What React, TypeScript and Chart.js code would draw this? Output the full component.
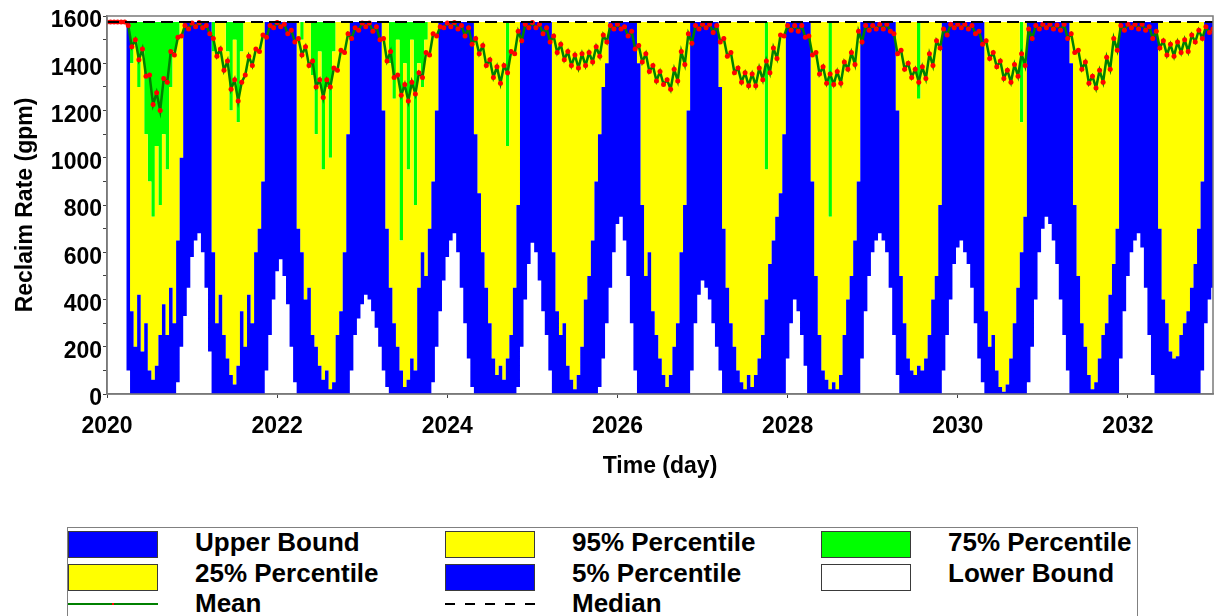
import React, { useEffect, useRef } from 'react';
import { Chart, registerables } from 'chart.js';

Chart.register(...registerables);

const FONT = "'Liberation Sans', Arial, Helvetica, sans-serif";

// ---- axes ----
const START_YEAR = 2020;
const END_YEAR = 2033;
const STEPS_PER_YEAR = 24; // semi-monthly samples
const X_TICKS = [2020, 2022, 2024, 2026, 2028, 2030, 2032];
const Y_TICKS = [0, 100, 200, 300, 400, 500, 600, 700, 800, 900, 1000, 1100, 1200, 1300, 1400, 1500, 1600];
const Y_MIN = 0;
const Y_MAX = 1600;

// ---- series (gpm) ----
const UPPER_BOUND = 1575; // upper bound / 95% / 75% percentiles sit at capacity
const MEDIAN_X = [2020, 2033];
const MEDIAN = [1575, 1575];

// 25% percentile (lower edge of the green band)
const P25 = [
  1575,1575,1575,1575,1575,1575,1575,1400,1500,1300,1450,1100,900,750,1050,800,1100,950,1300,1450,1500,1575,1575,1575, // 2020
  1575,1575,1575,1575,1575,1575,1450,1575,1575,1575,1450,1200,1500,1150,1450,1575,1575,1575,1575,1575,1575,1575,1575,1575, // 2021
  1575,1575,1575,1575,1575,1575,1575,1500,1575,1575,1350,1100,1450,950,1300,1000,1450,1575,1575,1575,1575,1575,1575,1575, // 2022
  1575,1575,1575,1575,1575,1575,1575,1575,1400,1250,1500,650,1400,950,1500,800,1400,1300,1500,1575,1575,1575,1575,1575, // 2023
  1575,1575,1575,1575,1575,1575,1575,1575,1575,1575,1575,1575,1575,1575,1575,1575,1575,1050,1575,1575,1575,1575,1575,1575, // 2024
  1575,1575,1575,1575,1575,1575,1575,1575,1575,1575,1575,1575,1575,1575,1575,1575,1575,1575,1575,1575,1575,1575,1575,1575, // 2025
  1575,1575,1575,1575,1575,1575,1575,1575,1575,1575,1575,1575,1575,1575,1575,1575,1575,1575,1575,1575,1575,1575,1575,1575, // 2026
  1575,1575,1575,1575,1575,1575,1575,1575,1575,1575,1575,1575,1575,1575,1575,1575,1575,1575,950,1575,1575,1575,1575,1575, // 2027
  1575,1575,1575,1575,1575,1575,1575,1575,1575,1575,1575,1575,750,1575,1575,1575,1575,1575,1575,1575,1575,1575,1575,1575, // 2028
  1575,1575,1575,1575,1575,1575,1575,1575,1575,1575,1575,1575,1575,1250,1575,1575,1575,1575,1575,1575,1575,1575,1575,1575, // 2029
  1575,1575,1575,1575,1575,1575,1575,1575,1575,1575,1575,1575,1575,1575,1575,1575,1575,1575,1150,1575,1575,1575,1575,1575, // 2030
  1575,1575,1575,1575,1575,1575,1575,1575,1575,1575,1575,1575,1575,1575,1575,1575,1575,1575,1575,1575,1575,1575,1575,1575, // 2031
  1575,1575,1575,1575,1575,1575,1575,1575,1575,1575,1575,1575,1575,1575,1575,1575,1575,1575,1575,1575,1575,1575,1575,1575, // 2032
  1575,
];

// 5% percentile (lower edge of the yellow band)
const P5 = [
  1575,1575,1575,1575,1575,1575,1575,350,200,420,180,300,100,60,120,250,380,250,450,300,650,1000,1575,1575, // 2020
  1575,1575,1575,1575,1575,1575,600,300,420,250,150,80,40,120,350,200,420,300,600,700,900,1575,1575,1575, // 2021
  1575,1575,1575,1575,1575,1575,700,600,400,450,250,200,120,60,100,20,50,250,350,600,1100,1575,1575,1575, // 2022
  1575,1575,1575,1575,1575,1575,1200,700,450,300,200,100,30,60,150,100,450,600,500,700,900,1200,1575,1575, // 2023
  1575,1575,1575,1575,1575,1575,1575,1575,1100,850,600,450,300,150,80,120,60,150,250,450,800,1575,1575,1575, // 2024
  1575,1575,1575,1575,1575,1575,600,350,250,300,120,60,20,80,200,400,500,650,900,1100,1300,1400,1575,1575, // 2025
  1575,1575,1575,1575,1575,1575,1400,800,500,600,350,250,150,80,30,80,200,300,600,800,1200,1575,1575,1575, // 2026
  1575,1575,1575,1575,1575,1300,700,450,300,200,100,50,20,80,30,80,150,250,400,550,650,750,850,1100, // 2027
  1575,1575,1575,1575,1575,1575,1575,900,500,250,100,60,20,50,20,80,250,400,500,650,900,1575,1575,1575, // 2028
  1575,1575,1575,1575,1575,1575,1575,1200,500,300,150,100,80,120,100,150,250,400,500,800,1575,1575,1575,1575, // 2029
  1575,1575,1575,1575,1575,1575,1575,1575,350,200,250,100,30,10,40,150,300,450,600,750,1575,1575,1575,1575, // 2030
  1575,1575,1575,1575,1575,1575,1575,1575,1400,800,500,300,200,80,20,50,150,250,300,420,550,700,1575,1575, // 2031
  1575,1575,1575,1575,1575,1575,1575,1575,1575,700,400,300,180,150,160,250,300,350,450,550,700,900,1575,1575, // 2032
  1575,
];

// lower bound (lower edge of the blue band; white below)
const LOWER = [
  1575,1575,1575,1575,1575,1575,100,0,0,0,0,0,0,0,0,0,0,0,0,0,50,200,330,450, // 2020
  580,650,680,600,450,180,0,0,0,0,0,0,0,0,0,0,0,0,0,0,0,100,250,400, // 2021
  520,570,500,380,200,50,0,0,0,0,0,0,0,0,0,0,0,0,0,0,0,100,250,320, // 2022
  380,420,400,350,280,200,100,30,0,0,0,0,0,0,0,0,0,0,0,0,50,200,350,480, // 2023
  580,650,680,600,450,300,150,30,0,0,0,0,0,0,0,0,0,0,0,0,30,200,400,550, // 2024
  640,600,480,350,250,100,0,0,0,0,0,0,0,0,0,0,0,0,0,30,150,300,450,600, // 2025
  720,750,650,500,300,100,0,0,0,0,0,0,0,0,0,0,0,0,0,0,0,100,300,420, // 2026
  480,450,400,300,200,100,0,0,0,0,0,0,0,0,0,0,0,0,0,0,0,0,0,0, // 2027
  150,300,400,350,250,120,0,0,0,0,0,0,0,0,0,0,0,0,0,0,0,150,350,500, // 2028
  600,650,680,650,600,450,250,80,0,0,0,0,0,0,0,0,0,0,0,0,100,250,400,550, // 2029
  620,650,600,550,450,300,150,50,0,0,0,0,0,0,0,0,0,0,0,0,50,200,400,600, // 2030
  700,750,720,650,550,400,250,100,0,0,0,0,0,0,0,0,0,0,0,0,0,0,150,350, // 2031
  500,600,650,680,620,450,250,80,0,0,0,0,0,0,0,0,0,0,0,0,0,100,300,400, // 2032
  450,
];

// mean
const MEAN = [
  1575,1575,1575,1575,1575,1575,1560,1470,1500,1415,1460,1345,1350,1225,1275,1200,1335,1320,1450,1435,1510,1515,1560,1545, // 2020
  1570,1555,1572,1550,1560,1525,1505,1430,1460,1370,1410,1290,1330,1240,1320,1350,1430,1390,1460,1450,1520,1510,1560,1550, // 2021
  1572,1555,1565,1525,1540,1490,1505,1435,1470,1390,1410,1300,1330,1255,1330,1300,1380,1370,1455,1445,1525,1505,1550,1540, // 2022
  1570,1555,1570,1535,1555,1500,1505,1410,1450,1340,1350,1265,1310,1240,1320,1270,1360,1340,1445,1435,1525,1515,1555,1550, // 2023
  1570,1555,1572,1545,1560,1515,1550,1480,1505,1440,1475,1390,1415,1340,1385,1315,1390,1360,1450,1440,1535,1495,1565,1550, // 2024
  1572,1550,1565,1525,1550,1490,1515,1445,1480,1415,1450,1390,1435,1380,1440,1390,1445,1405,1470,1430,1520,1490,1560,1545, // 2025
  1565,1545,1555,1515,1535,1460,1475,1405,1440,1365,1390,1325,1365,1310,1330,1290,1375,1325,1450,1395,1525,1485,1560,1545, // 2026
  1565,1550,1565,1530,1560,1490,1505,1430,1445,1360,1380,1320,1360,1305,1355,1305,1380,1330,1410,1360,1465,1420,1520,1515, // 2027
  1560,1540,1560,1535,1560,1510,1515,1435,1445,1355,1385,1315,1355,1310,1365,1315,1405,1375,1445,1395,1535,1490,1560,1540, // 2028
  1560,1545,1565,1545,1565,1535,1525,1440,1455,1375,1400,1340,1375,1320,1385,1335,1440,1390,1495,1465,1545,1520,1565,1550, // 2029
  1565,1550,1565,1545,1560,1525,1535,1480,1495,1420,1445,1385,1410,1335,1370,1320,1395,1345,1440,1390,1545,1505,1560,1545, // 2030
  1565,1550,1565,1545,1562,1540,1565,1505,1525,1445,1455,1375,1405,1315,1345,1295,1370,1320,1425,1375,1505,1455,1560,1540, // 2031
  1565,1550,1565,1545,1565,1540,1555,1505,1535,1465,1495,1435,1480,1430,1490,1445,1500,1450,1520,1490,1540,1505,1555,1530, // 2032
  1545,
];

const BLUE = '#0000ff';
const YELLOW = '#ffff00';
const GREEN = '#00ff00';
const MEAN_GREEN = '#008000';
const RED = '#ff0000';

const toPoints = (values: number[]) =>
  values.map((y, i) => ({ x: START_YEAR + i / STEPS_PER_YEAR, y }));

const framePlugin = {
  id: 'plotFrame',
  afterDraw(chart: any) {
    const { ctx, chartArea: a } = chart;
    ctx.save();
    ctx.strokeStyle = '#7a7a7a';
    ctx.lineWidth = 1.5;
    ctx.strokeRect(a.left, a.top, a.right - a.left, a.bottom - a.top);
    ctx.restore();
  },
};

type LegendItem = { label: string; kind: 'box' | 'mean' | 'median'; color?: string };
const LEGEND_ITEMS: LegendItem[] = [
  { label: 'Upper Bound', kind: 'box', color: BLUE },
  { label: '95% Percentile', kind: 'box', color: YELLOW },
  { label: '75% Percentile', kind: 'box', color: GREEN },
  { label: '25% Percentile', kind: 'box', color: YELLOW },
  { label: '5% Percentile', kind: 'box', color: BLUE },
  { label: 'Lower Bound', kind: 'box', color: '#ffffff' },
  { label: 'Mean', kind: 'mean' },
  { label: 'Median', kind: 'median' },
];

const Legend = () => {
  const swatchX = [68, 445, 821];
  const textX = [195, 572, 948];
  const swatchCenter = [544, 577, 604];
  const textCenter = [542, 573, 603];
  return (
    <>
      <div
        style={{
          position: 'absolute',
          left: 67,
          top: 527,
          width: 1071,
          height: 120,
          border: '1px solid #808080',
          boxSizing: 'border-box',
        }}
      />
      {LEGEND_ITEMS.map((it, i) => {
        const col = i % 3;
        const row = Math.floor(i / 3);
        const cy = swatchCenter[row];
        let swatch: React.ReactNode = null;
        if (it.kind === 'box') {
          swatch = (
            <div
              style={{
                position: 'absolute',
                left: swatchX[col],
                top: cy - 13,
                width: 90,
                height: 27,
                background: it.color,
                border: '1px solid #3a3a3a',
                boxSizing: 'border-box',
              }}
            />
          );
        } else {
          swatch = (
            <svg
              style={{ position: 'absolute', left: swatchX[col], top: cy - 5 }}
              width={90}
              height={10}
            >
              {it.kind === 'mean' ? (
                <>
                  <line x1={0} y1={5} x2={90} y2={5} stroke={MEAN_GREEN} strokeWidth={2} />
                  <rect x={44} y={4} width={2} height={2} fill={RED} />
                </>
              ) : (
                <line x1={0} y1={5} x2={90} y2={5} stroke="#000" strokeWidth={2} strokeDasharray="10 10" />
              )}
            </svg>
          );
        }
        return (
          <React.Fragment key={it.label}>
            {swatch}
            <div
              style={{
                position: 'absolute',
                left: textX[col],
                top: textCenter[row] - 15,
                height: 30,
                lineHeight: '30px',
                fontFamily: FONT,
                fontWeight: 'bold',
                fontSize: 26,
                color: '#000',
                whiteSpace: 'nowrap',
              }}
            >
              {it.label}
            </div>
          </React.Fragment>
        );
      })}
    </>
  );
};

export default function App() {
  const canvasRef = useRef<HTMLCanvasElement | null>(null);

  useEffect(() => {
    const canvas = canvasRef.current;
    if (!canvas) return;
    const tickFont = { family: FONT, size: 23, weight: 'bold' as const };
    const chart = new Chart(canvas, {
      type: 'line',
      data: {
        datasets: [
          {
            label: '75% Percentile',
            data: toPoints(P25),
            stepped: 'middle',
            fill: { value: UPPER_BOUND },
            backgroundColor: GREEN,
            borderColor: 'rgba(0,0,0,0)',
            borderWidth: 0,
            pointRadius: 0,
            order: 5,
          },
          {
            label: '25% Percentile',
            data: toPoints(P5),
            stepped: 'middle',
            fill: '-1',
            backgroundColor: YELLOW,
            borderColor: 'rgba(0,0,0,0)',
            borderWidth: 0,
            pointRadius: 0,
            order: 4,
          },
          {
            label: '5% Percentile',
            data: toPoints(LOWER),
            stepped: 'middle',
            fill: '-1',
            backgroundColor: BLUE,
            borderColor: 'rgba(0,0,0,0)',
            borderWidth: 0,
            pointRadius: 0,
            order: 3,
          },
          {
            label: 'Mean',
            data: toPoints(MEAN),
            fill: false,
            borderColor: MEAN_GREEN,
            borderWidth: 2.5,
            pointRadius: 2.5,
            pointBorderWidth: 0,
            pointBackgroundColor: RED,
            order: 2,
          },
          {
            label: 'Median',
            data: MEDIAN_X.map((x, i) => ({ x, y: MEDIAN[i] })),
            fill: false,
            borderColor: '#000',
            borderWidth: 2,
            borderDash: [12, 6],
            pointRadius: 0,
            order: 1,
          },
        ] as any,
      },
      options: {
        responsive: false,
        animation: false,
        devicePixelRatio: 1,
        layout: { padding: { left: 0, right: 4, top: 16, bottom: 0 } },
        elements: { line: { tension: 0 } },
        plugins: { legend: { display: false }, tooltip: { enabled: false } },
        scales: {
          x: {
            type: 'linear',
            min: START_YEAR,
            max: END_YEAR,
            afterBuildTicks: (s: any) => {
              s.ticks = X_TICKS.map((v) => ({ value: v }));
            },
            afterFit: (s: any) => {
              s.height = 106;
            },
            ticks: {
              autoSkip: false,
              maxRotation: 0,
              padding: 15,
              color: '#000',
              font: tickFont,
              callback: (v: any) => String(v),
            },
            grid: { drawOnChartArea: false, drawTicks: true, tickLength: 4, color: '#404040' },
            border: { display: true, color: '#7a7a7a', width: 1.5 },
            title: {
              display: true,
              text: 'Time (day)',
              color: '#000',
              font: tickFont,
              padding: { top: 0, bottom: 20 },
            },
          },
          y: {
            type: 'linear',
            min: Y_MIN,
            max: Y_MAX,
            afterBuildTicks: (s: any) => {
              s.ticks = Y_TICKS.map((v) => ({ value: v }));
            },
            afterFit: (s: any) => {
              s.width = 107;
            },
            ticks: {
              autoSkip: false,
              padding: 1,
              labelOffset: 5,
              color: '#000',
              font: tickFont,
              callback: (v: any) => (Number(v) % 200 === 0 ? String(v) : ''),
            },
            grid: { drawOnChartArea: false, drawTicks: true, tickLength: 4, color: '#404040' },
            border: { display: true, color: '#7a7a7a', width: 1.5 },
            title: {
              display: true,
              text: 'Reclaim Rate (gpm)',
              color: '#000',
              font: tickFont,
              padding: { top: 12, bottom: 0 },
            },
          },
        },
      } as any,
      plugins: [framePlugin],
    });
    return () => chart.destroy();
  }, []);

  return (
    <div
      style={{
        position: 'fixed',
        left: 0,
        top: 0,
        width: 1217,
        height: 616,
        background: '#fff',
        overflow: 'hidden',
      }}
    >
      <canvas
        ref={canvasRef}
        width={1217}
        height={500}
        style={{ position: 'absolute', left: 0, top: 0, width: 1217, height: 500 }}
      />
      <Legend />
    </div>
  );
}
